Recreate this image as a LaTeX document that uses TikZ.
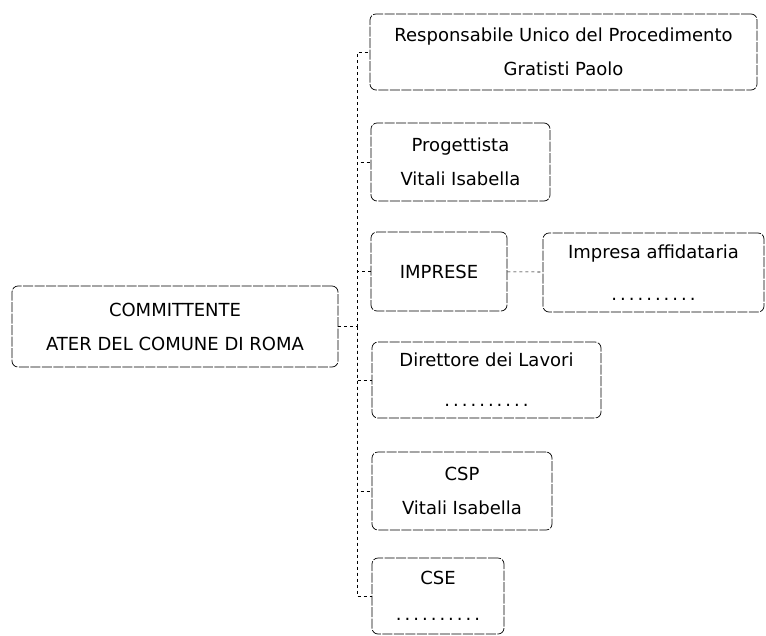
\documentclass[tikz,border=0pt]{standalone}
\usepackage{fontspec}
\setmainfont{DejaVu Sans}
\begin{document}
\begin{tikzpicture}[x=1pt,y=-1pt,
  box/.style={draw,rounded corners=6pt,dash pattern=on 10pt off 1.5pt,line width=0.7pt,align=center,
    inner sep=0pt,font=\fontsize{18}{34}\selectfont},
  link/.style={dash pattern=on 3pt off 3pt,line width=0.6pt}]
  \useasboundingbox (0,0) rectangle (766,635);
  \node[box,minimum width=326,minimum height=81] at (175,326.5) (comm) {COMMITTENTE\\ATER DEL COMUNE DI ROMA};
  \node[box,minimum width=387,minimum height=76] at (563.5,52) (rup) {Responsabile Unico del Procedimento\\Gratisti Paolo};
  \node[box,minimum width=179,minimum height=78] at (460.5,162) (prog) {Progettista\\Vitali Isabella};
  \node[box,minimum width=136,minimum height=79] at (439,271.5) (imp) {IMPRESE};
  \node[box,minimum width=221,minimum height=79] at (653.5,272.5) (aff) {Impresa affidataria\\[8pt].\,.\,.\,.\,.\,.\,.\,.\,.\,.};
  \node[box,minimum width=229,minimum height=76] at (486.5,380) (dl) {Direttore dei Lavori\\[6pt].\,.\,.\,.\,.\,.\,.\,.\,.\,.};
  \node[box,minimum width=180,minimum height=78] at (462,491) (csp) {CSP\\Vitali Isabella};
  \node[box,minimum width=132,minimum height=76] at (438,596) (cse) {CSE\\[2pt].\,.\,.\,.\,.\,.\,.\,.\,.\,.};
  \coordinate (jn) at (357,326.5);
  \draw[link] (comm) -- (jn);
  \draw[link] (jn) |- (rup.west); \draw[link] (jn) |- (prog.west);
  \draw[link] (jn) |- (imp.west); \draw[link] (jn) |- (dl.west);
  \draw[link] (jn) |- (csp.west); \draw[link] (jn) |- (cse.west);
  \draw[link] (imp) -- (aff);
\end{tikzpicture}
\end{document}
